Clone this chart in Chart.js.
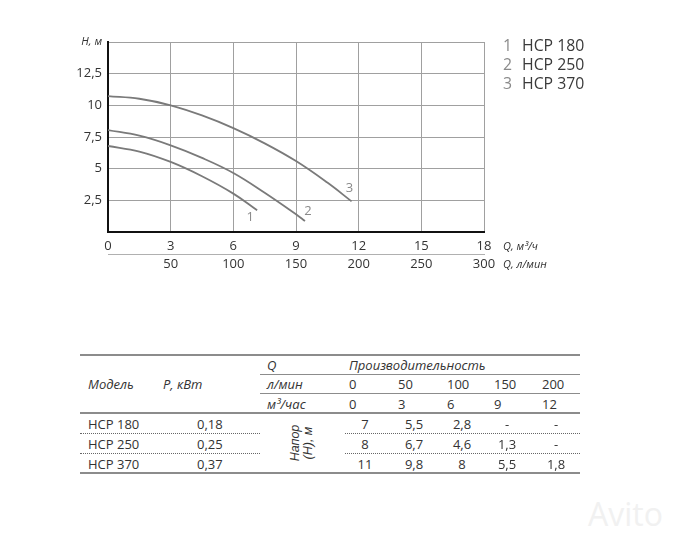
<!DOCTYPE html>
<html lang="ru">
<head>
<meta charset="utf-8">
<title>HCP</title>
<script src="https://cdn.jsdelivr.net/npm/chart.js@4.4.1/dist/chart.umd.min.js"></script>
<style>
    body { margin: 0; background: #fff; font-family: "Open Sans", sans-serif; color: #333; }
    #page { position: relative; width: 674px; height: 540px; overflow: hidden; }
    #chartBox { position: absolute; left: 0; top: 0; }
    .legend { position: absolute; left: 503px; top: 36px; font-size: 15.8px; line-height: 19px; color: #3a3a3a; }
    .legend .n { color: #8a8a8a; display: inline-block; width: 19px; }
    .unit { position: absolute; left: 503px; font-size: 11px; font-style: italic; line-height: 14px; color: #333; }
    .t { position: absolute; font-size: 13px; line-height: 16px; white-space: nowrap; color: #333; }
    .i { font-style: italic; }
    .c { transform: translateX(-50%); }
    .rule { position: absolute; background: #8c8c8c; }
    .dots { position: absolute; height: 0; border-top: 1px dotted #666; }
    .rot { position: absolute; left: 302px; top: 443px; transform: translate(-50%, -50%) rotate(-90deg);
           font-family: "Liberation Sans Narrow", sans-serif; font-style: italic; font-size: 12.5px;
           line-height: 13px; text-align: center; color: #333; white-space: nowrap; }
    .wm { position: absolute; left: 588px; top: 492px; font-size: 32px; color: #f1f1f1; font-family: "Open Sans", sans-serif; }
</style>
</head>
<body>
<div id="page">
    <canvas id="chartBox" width="674" height="290"></canvas>
    <div class="legend">
        <div><span class="n">1</span>HCP 180</div>
        <div><span class="n">2</span>HCP 250</div>
        <div><span class="n">3</span>HCP 370</div>
    </div>
    <div class="unit" style="top:239px">Q, м³/ч</div>
    <div class="unit" style="top:257px">Q, л/мин</div>
    <div id="table"></div>
    <div class="wm">Avito</div>
</div>
<script>
// flow ticks (m3/h) and matching l/min labels
const qTicksM3 = ['0', '3', '6', '9', '12', '15', '18'];
const qTicksLmin = ['', '50', '100', '150', '200', '250', '300'];
const hTickLabels = ['', '2,5', '5', '7,5', '10', '12,5', 'H, м'];

// pump curves: Q in m3/h, H in m
const q180 = [0, 1.5, 3, 4.5, 6, 7.14];
const h180 = [6.79, 6.35, 5.53, 4.4, 3.03, 1.71];
const q250 = [0, 1.5, 3, 4.5, 6, 7.5, 9, 9.43];
const h250 = [8.05, 7.6, 6.84, 5.85, 4.66, 3.1, 1.4, 0.87];
const q370 = [0, 1.5, 3, 4.5, 6, 7.5, 9, 10.5, 11.66];
const h370 = [10.73, 10.52, 10.0, 9.2, 8.2, 7.0, 5.6, 3.9, 2.42];

// table data
const models = ['HCP 180', 'HCP 250', 'HCP 370'];
const powers = ['0,18', '0,25', '0,37'];
const flowLmin = ['0', '50', '100', '150', '200'];
const flowM3h = ['0', '3', '6', '9', '12'];
const headRows = [
    ['7', '5,5', '2,8', '-', '-'],
    ['8', '6,7', '4,6', '1,3', '-'],
    ['11', '9,8', '8', '5,5', '1,8']
];

const numberOffsets = [[-7, 7], [3, -10], [-2, -13]];

const toPoints = (qs, hs) => qs.map((q, i) => ({ x: q, y: hs[i] }));

const curveNumbers = {
    id: 'curveNumbers',
    afterDatasetsDraw(chart) {
        const ctx = chart.ctx;
        ctx.save();
        ctx.font = '13px "Open Sans"';
        ctx.fillStyle = '#8a8a8a';
        ctx.textAlign = 'center';
        ctx.textBaseline = 'middle';
        chart.data.datasets.forEach((ds, i) => {
            const pts = chart.getDatasetMeta(i).data;
            const last = pts[pts.length - 1];
            ctx.fillText(String(i + 1), last.x + numberOffsets[i][0], last.y + numberOffsets[i][1]);
        });
        ctx.restore();
    }
};

const curve = (label, data) => ({
    label: label,
    data: data,
    borderColor: '#7a7a7a',
    borderWidth: 1.8,
    pointRadius: 0,
    fill: false,
    tension: 0.4
});

new Chart(document.getElementById('chartBox').getContext('2d'), {
    type: 'line',
    data: {
        datasets: [
            curve('HCP 180', toPoints(q180, h180)),
            curve('HCP 250', toPoints(q250, h250)),
            curve('HCP 370', toPoints(q370, h370))
        ]
    },
    options: {
        responsive: false,
        animation: false,
        devicePixelRatio: 1,
        layout: { padding: { top: 42, right: 190, bottom: 14, left: 0 } },
        plugins: { legend: { display: false }, tooltip: { enabled: false } },
        scales: {
            x: {
                type: 'linear',
                position: 'bottom',
                weight: 0,
                min: 0,
                max: 18,
                afterFit: s => { s.height = 22; },
                grid: { color: '#a0a0a0', lineWidth: 1, drawTicks: false },
                border: { color: '#111', width: 2 },
                ticks: {
                    stepSize: 3,
                    padding: 6,
                    color: '#333',
                    font: { family: 'Open Sans', size: 13 },
                    callback: (v, i) => qTicksM3[i]
                }
            },
            x2: {
                type: 'linear',
                position: 'bottom',
                weight: 1,
                min: 0,
                max: 18,
                afterFit: s => { s.height = 22; },
                grid: { drawOnChartArea: false, drawTicks: false },
                border: { color: '#b0b0b0', width: 1 },
                ticks: {
                    stepSize: 3,
                    padding: 2,
                    color: '#333',
                    font: { family: 'Open Sans', size: 13 },
                    callback: (v, i) => qTicksLmin[i]
                }
            },
            y: {
                min: 0,
                max: 15,
                afterFit: s => { s.width = 108; },
                grid: { color: '#a0a0a0', lineWidth: 1, drawTicks: false },
                border: { color: '#111', width: 2 },
                ticks: {
                    stepSize: 2.5,
                    padding: 6,
                    color: '#333',
                    font: c => (c.tick && c.tick.value === 15)
                        ? { family: 'Open Sans', size: 11, style: 'italic' }
                        : { family: 'Open Sans', size: 13 },
                    callback: (v, i) => hTickLabels[i]
                }
            }
        }
    },
    plugins: [curveNumbers]
});

// table below the chart
const table = document.getElementById('table');
const put = (text, x, y, cls) => {
    const d = document.createElement('div');
    d.className = 't ' + (cls || '');
    d.textContent = text;
    d.style.left = x + 'px';
    d.style.top = (y - 8) + 'px';
    table.appendChild(d);
};
const rule = (x, y, w, h) => {
    const d = document.createElement('div');
    d.className = 'rule';
    Object.assign(d.style, { left: x + 'px', top: y + 'px', width: w + 'px', height: h + 'px' });
    table.appendChild(d);
};
const dots = (x, y, w) => {
    const d = document.createElement('div');
    d.className = 'dots';
    Object.assign(d.style, { left: x + 'px', top: y + 'px', width: w + 'px' });
    table.appendChild(d);
};

const headX = [349, 398, 447, 494, 542];
const cellX = [365, 414, 462, 507, 556];
const rowY = [424, 444, 464];

rule(80, 354, 500, 2);
rule(260, 374, 320, 1);
rule(260, 393, 320, 1);
rule(80, 412, 500, 2);
rule(80, 472, 500, 2);
[433, 453].forEach(y => { dots(80, y, 180); dots(345, y, 235); });

put('Модель', 88, 384, 'i');
put('P, кВт', 163, 384, 'i');
put('Q', 267, 365, 'i');
put('Производительность', 349, 365, 'i');
put('л/мин', 267, 384, 'i');
put('м³/час', 267, 404, 'i');
flowLmin.forEach((v, j) => put(v, headX[j], 384));
flowM3h.forEach((v, j) => put(v, headX[j], 404));
models.forEach((m, i) => {
    put(m, 88, rowY[i]);
    put(powers[i], 197, rowY[i]);
    headRows[i].forEach((v, j) => put(v, cellX[j], rowY[i], 'c'));
});
const rot = document.createElement('div');
rot.className = 'rot';
rot.innerHTML = 'Напор<br>(H), м';
table.appendChild(rot);
</script>
</body>
</html>
